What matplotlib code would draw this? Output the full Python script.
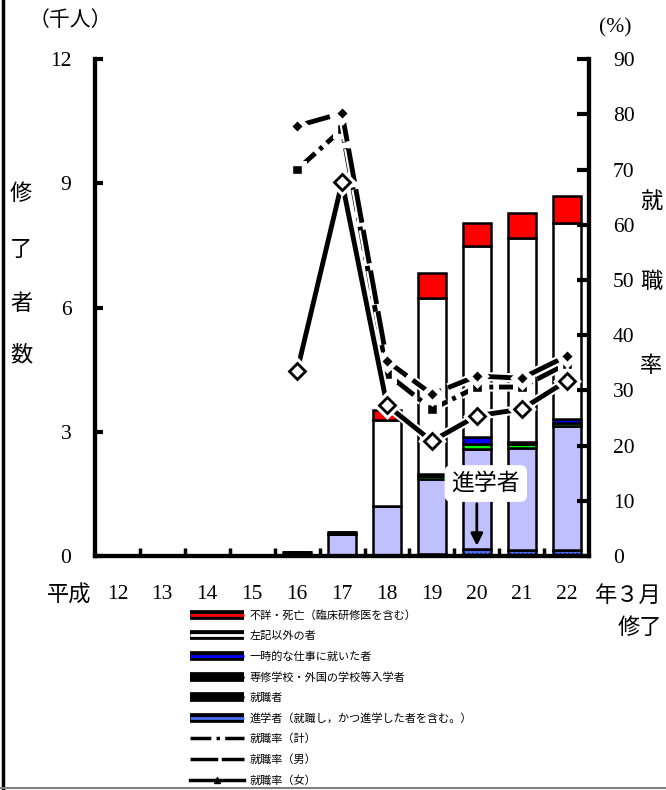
import numpy as np
import matplotlib
matplotlib.use("Agg")
import matplotlib.pyplot as plt
import matplotlib.patheffects as pe
from matplotlib.lines import Line2D

plt.rcParams['font.family'] = ['Liberation Serif', 'Noto Sans CJK JP']

# %% data (千人 / %)

years = ['12', '13', '14', '15', '16', '17', '18', '19', '20', '21', '22']

shingaku = [0, 0, 0, 0, 0, 0, 0, 0.05, 0.17, 0.15, 0.15]          # 進学者
shushoku = [0, 0, 0, 0, 0.10, 0.52, 1.20, 1.81, 2.41, 2.47, 2.99]  # 就職者
senshu = [0, 0, 0, 0, 0, 0, 0, 0.07, 0.12, 0.08, 0.08]             # 専修学校等
ichiji = [0, 0, 0, 0, 0, 0, 0, 0.05, 0.18, 0.05, 0.08]             # 一時的な仕事
sonota = [0, 0, 0, 0, 0, 0.07, 2.08, 4.25, 4.61, 4.94, 4.75]       # 左記以外
fusho = [0, 0, 0, 0, 0, 0, 0.24, 0.61, 0.56, 0.60, 0.65]           # 不詳・死亡

rate_years = ['16', '17', '18', '19', '20', '21', '22']
rate_kei = [70.0, 77.3, 33.0, 26.6, 30.6, 30.6, 34.8]
rate_otoko = [77.9, 80.2, 35.3, 29.3, 32.6, 32.2, 36.2]
rate_onna = [33.5, 67.7, 27.3, 20.8, 25.4, 26.6, 31.7]

# %% figure

fig = plt.figure(figsize=(6.66, 7.90), dpi=100)
ax = fig.add_axes([0.1426, 0.2962, 0.742, 0.629])
ax2 = ax.twinx()

x = np.arange(len(years))
stack = [
    (shingaku, '#4a6cf0', '....'),
    (shushoku, '#c0c0ff', None),
    (senshu, '#00ff00', None),
    (ichiji, '#0000ff', None),
    (sonota, 'white', None),
    (fusho, '#ff0000', None),
]
bottom = np.zeros(len(years))
for vals, col, hatch in stack:
    vals = np.array(vals, dtype=float)
    ax.bar(x, vals, bottom=bottom, width=0.63, color=col, edgecolor='black',
           linewidth=1.8, hatch=hatch, zorder=2)
    bottom += vals

ax.set_xlim(-0.5, len(years) - 0.5)
ax.set_ylim(0, 12)
ax.set_yticks([0, 3, 6, 9, 12])
ax.set_xticks(x)
ax.set_xticklabels(years)
ax.set_xticks(np.arange(0.5, len(years) - 1, 1), minor=True)
ax.tick_params(axis='x', which='major', length=0, labelsize=15.5, pad=21)
ax.tick_params(axis='x', which='minor', direction='in', length=6, width=2.5)
ax.tick_params(axis='y', direction='in', length=6, width=3, labelsize=15.5, pad=17)

ax2.set_ylim(0, 90)
ax2.set_yticks(np.arange(0, 91, 10))
ax2.tick_params(axis='y', direction='in', length=9, width=3, labelsize=15.5, pad=17)

for a in (ax, ax2):
    a.spines['top'].set_visible(False)
    for s in ('left', 'right', 'bottom'):
        a.spines[s].set_linewidth(3)

# rate lines
rx = [years.index(y) for y in rate_years]
halo = [pe.Stroke(linewidth=6.5, foreground='white'), pe.Normal()]
ax2.plot(rx, rate_kei, color='black', linewidth=3.5, linestyle=(0, (5, 1.2, 0.8, 1.2)),
         marker='s', markersize=7, markerfacecolor='black', markeredgecolor='white',
         path_effects=halo, zorder=4, label='就職率（計）')
ax2.plot(rx, rate_otoko, color='black', linewidth=3.5, linestyle=(0, (7, 1.5)),
         marker='D', markersize=6, markerfacecolor='black', markeredgecolor='white',
         path_effects=halo, zorder=4, label='就職率（男）')
ax2.plot(rx, rate_onna, color='black', linewidth=3.5,
         marker='D', markersize=8, markerfacecolor='white', markeredgecolor='black',
         markeredgewidth=2, path_effects=halo, zorder=5, label='就職率（女）')

# 進学者 callout
ax.text(8.2, 1.75, '進学者', fontsize=16.5, ha='center', va='center', zorder=6,
        family=['Noto Sans CJK JP'],
        bbox=dict(boxstyle='round,pad=0.3', facecolor='white', edgecolor='none'))
ax.annotate('', xy=(8, 0.18), xytext=(8, 1.33), zorder=6,
            arrowprops=dict(arrowstyle='-|>', color='black', linewidth=2,
                            mutation_scale=18))

# axis captions
cjk = ['Noto Sans CJK JP']
fig.text(70 / 666, 1 - 20 / 790, '（千人）', fontsize=15, ha='center', va='center', family=cjk)
fig.text(615 / 666, 1 - 28 / 790, '(%)', fontsize=15.5, ha='center', va='center')
for ch, yy in zip('修了者数', [193, 250, 303, 355]):
    fig.text(21 / 666, 1 - yy / 790, ch, fontsize=16, ha='center', va='center', family=cjk)
for ch, yy in zip('就職率', [202, 282, 365]):
    fig.text(651 / 666, 1 - yy / 790, ch, fontsize=16, ha='center', va='center', family=cjk)
fig.text(69 / 666, 1 - 595 / 790, '平成', fontsize=16, ha='center', va='center', family=cjk)
fig.text(628 / 666, 1 - 595 / 790, '年３月', fontsize=16, ha='center', va='center', family=cjk)
fig.text(640 / 666, 1 - 628 / 790, '修了', fontsize=16, ha='center', va='center', family=cjk)

# legend
def bar_handle(col):
    return Line2D([], [], color=col, linewidth=2, solid_capstyle='butt',
                  path_effects=[pe.Stroke(linewidth=7, foreground='black'), pe.Normal()])

handles = [
    bar_handle('#ff0000'),
    bar_handle('white'),
    bar_handle('#0000ff'),
    bar_handle('black'),
    bar_handle('black'),
    bar_handle('#4a6cf0'),
    Line2D([], [], color='black', linewidth=2.5, linestyle=(0, (6, 1.5, 1, 1.5))),
    Line2D([], [], color='black', linewidth=2.5, linestyle=(0, (8, 1))),
    Line2D([], [], color='black', linewidth=2.5, marker='^', markersize=5),
]
labels = [
    '不詳・死亡（臨床研修医を含む）',
    '左記以外の者',
    '一時的な仕事に就いた者',
    '専修学校・外国の学校等入学者',
    '就職者',
    '進学者（就職し，かつ進学した者を含む。）',
    '就職率（計）',
    '就職率（男）',
    '就職率（女）',
]
fig.legend(handles, labels, loc='upper left', bbox_to_anchor=(186 / 666, 1 - 606 / 790),
           frameon=False, prop={'family': cjk, 'size': 8}, handlelength=4.8,
           handletextpad=0.5, labelspacing=0.9, borderaxespad=0)

# page frame bits
fig.add_artist(Line2D([3 / 666, 3 / 666], [0, 1], color='black', linewidth=2.5))
fig.add_artist(Line2D([0, 1], [2 / 790, 2 / 790], color='gray', linewidth=1.5))

fig.savefig('out.png', dpi=100)
